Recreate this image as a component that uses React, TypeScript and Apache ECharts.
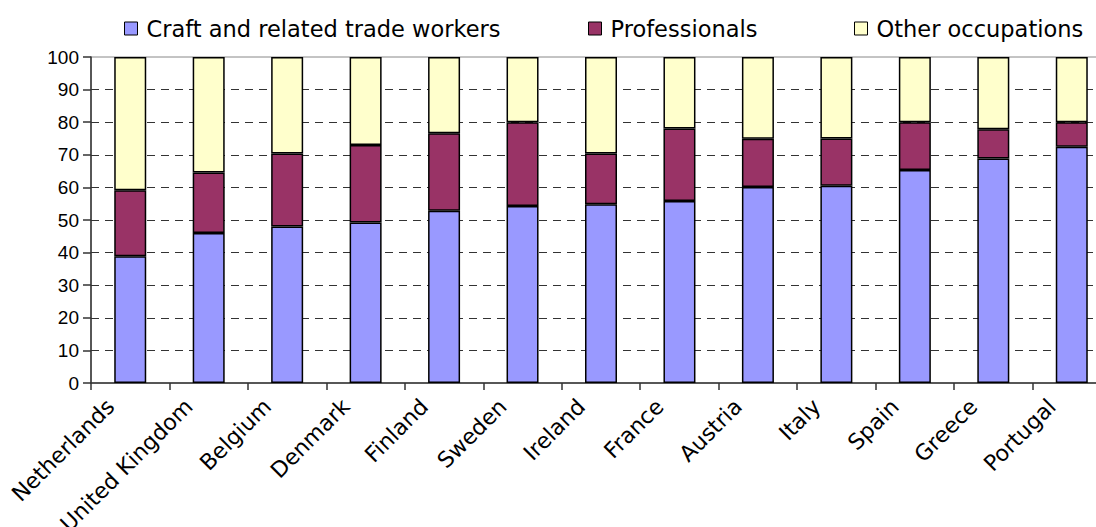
import React, { useEffect, useRef } from "react";
import * as echarts from "echarts";

const categories = [
  "Netherlands",
  "United Kingdom",
  "Belgium",
  "Denmark",
  "Finland",
  "Sweden",
  "Ireland",
  "France",
  "Austria",
  "Italy",
  "Spain",
  "Greece",
  "Portugal",
];

const craftWorkers = [38.9, 46.0, 48.0, 49.2, 52.8, 54.3, 54.8, 55.8, 60.1, 60.5, 65.3, 68.9, 72.5];
const professionals = [20.2, 18.6, 22.4, 23.8, 23.8, 25.7, 15.6, 22.3, 14.8, 14.5, 14.7, 8.9, 7.5];
const otherOccupations = [40.9, 35.4, 29.6, 27.0, 23.4, 20.0, 29.6, 21.9, 25.1, 25.0, 20.0, 22.2, 20.0];

const seriesNames = ["Craft and related trade workers", "Professionals", "Other occupations"];
const yTicks = { min: 0, max: 100, interval: 10 };

const FONT = "DejaVu Sans";

export default function App() {
  const ref = useRef<HTMLDivElement>(null);

  useEffect(() => {
    if (!ref.current) return;
    const chart = echarts.init(ref.current, null, { renderer: "svg" });
    const barStyle = (color: string) => ({
      color,
      borderColor: "#000",
      borderWidth: 1.5,
    });
    const legendCommon = {
      top: 17,
      padding: 0,
      itemWidth: 13,
      itemHeight: 13,
      icon: "rect",
      textStyle: { fontFamily: FONT, fontSize: 22.5, color: "#000", padding: [0, 0, 0, 4] },
      itemStyle: { borderColor: "#000", borderWidth: 1 },
    };
    chart.setOption({
      animation: false,
      backgroundColor: "#fff",
      legend: [
        { ...legendCommon, left: 124, data: [seriesNames[0]] },
        { ...legendCommon, left: 588, data: [seriesNames[1]] },
        { ...legendCommon, left: 854, data: [seriesNames[2]] },
      ],
      grid: {
        left: 91,
        top: 57,
        right: 0,
        bottom: 144,
        containLabel: false,
        outerBoundsMode: "none",
        show: true,
        borderColor: "#888",
        borderWidth: 1,
        backgroundColor: "transparent",
      },
      xAxis: {
        type: "category",
        data: categories,
        axisLine: { lineStyle: { color: "#333", width: 1.5 } },
        axisTick: { show: true, length: 7, lineStyle: { color: "#333", width: 1.5 } },
        axisLabel: {
          interval: 0,
          rotate: 45,
          fontFamily: FONT,
          fontSize: 22,
          color: "#000",
          margin: 0,
          padding: [0, 28, 0, 0],
        },
      },
      yAxis: {
        type: "value",
        min: yTicks.min,
        max: yTicks.max,
        interval: yTicks.interval,
        axisLine: { show: true, lineStyle: { color: "#333", width: 1.5 } },
        axisTick: { show: true, length: 8, lineStyle: { color: "#333", width: 1.5 } },
        axisLabel: { fontFamily: "Liberation Sans", fontSize: 19, color: "#000", margin: 12 },
        splitLine: {
          show: true,
          showMaxLine: false,
          showMinLine: false,
          lineStyle: { color: "#333", type: [8, 6], width: 1 },
        },
      },
      series: [
        {
          name: seriesNames[0],
          type: "bar",
          stack: "total",
          barWidth: 32,
          data: craftWorkers,
          itemStyle: barStyle("#9999FF"),
        },
        {
          name: seriesNames[1],
          type: "bar",
          stack: "total",
          barWidth: 32,
          data: professionals,
          itemStyle: barStyle("#993366"),
        },
        {
          name: seriesNames[2],
          type: "bar",
          stack: "total",
          barWidth: 32,
          data: otherOccupations,
          itemStyle: barStyle("#FFFFCC"),
        },
      ],
    });
    return () => chart.dispose();
  }, []);

  return (
    <div
      style={{
        position: "fixed",
        left: 0,
        top: 0,
        width: 1096,
        height: 527,
        overflow: "hidden",
        background: "#fff",
      }}
    >
      <div ref={ref} style={{ width: 1111, height: 527 }} />
    </div>
  );
}
